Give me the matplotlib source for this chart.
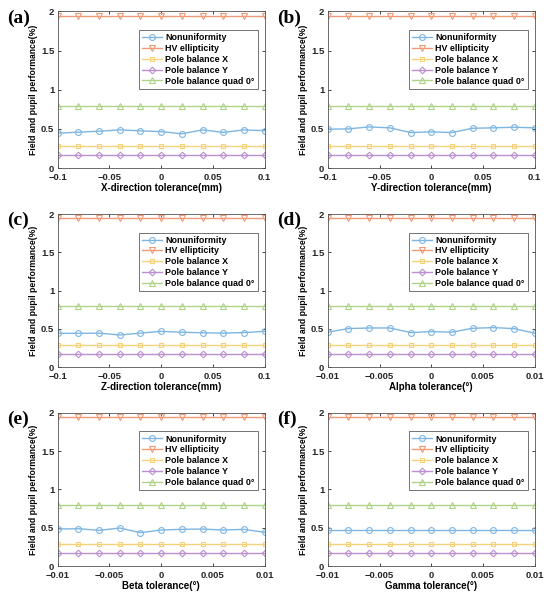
import matplotlib
matplotlib.use("Agg")
import matplotlib.pyplot as plt

plt.rcParams.update({
    "font.family": ["Liberation Sans", "DejaVu Sans"],
    "font.weight": "bold",
    "axes.labelweight": "bold",
})

# ---- data ---------------------------------------------------------------
X_MM = [-0.1, -0.08, -0.06, -0.04, -0.02, 0.0, 0.02, 0.04, 0.06, 0.08, 0.1]
X_DEG = [-0.01, -0.008, -0.006, -0.004, -0.002, 0.0, 0.002, 0.004, 0.006, 0.008, 0.01]

SERIES = ["Nonuniformity", "HV ellipticity", "Pole balance X",
          "Pole balance Y", "Pole balance quad 0°"]

HV = [1.945] * 11
POLE_X = [0.284] * 11
POLE_Y = [0.170] * 11
QUAD0 = [0.795] * 11

NONUNI_A = [0.445, 0.458, 0.470, 0.487, 0.475, 0.465, 0.437, 0.487, 0.455, 0.487, 0.477]
NONUNI_B = [0.496, 0.500, 0.525, 0.513, 0.453, 0.462, 0.453, 0.508, 0.513, 0.521, 0.513]
NONUNI_C = [0.442, 0.442, 0.445, 0.420, 0.445, 0.468, 0.457, 0.449, 0.445, 0.452, 0.468]
NONUNI_D = [0.458, 0.504, 0.512, 0.512, 0.452, 0.465, 0.457, 0.508, 0.517, 0.504, 0.445]
NONUNI_E = [0.483, 0.487, 0.466, 0.496, 0.436, 0.470, 0.479, 0.483, 0.470, 0.479, 0.440]
NONUNI_F = [0.470] * 11

PANELS = [
    ("(a)", X_MM, NONUNI_A, "X-direction tolerance(mm)", [-0.1, -0.05, 0, 0.05, 0.1]),
    ("(b)", X_MM, NONUNI_B, "Y-direction tolerance(mm)", [-0.1, -0.05, 0, 0.05, 0.1]),
    ("(c)", X_MM, NONUNI_C, "Z-direction tolerance(mm)", [-0.1, -0.05, 0, 0.05, 0.1]),
    ("(d)", X_DEG, NONUNI_D, "Alpha tolerance(°)", [-0.01, -0.005, 0, 0.005, 0.01]),
    ("(e)", X_DEG, NONUNI_E, "Beta tolerance(°)", [-0.01, -0.005, 0, 0.005, 0.01]),
    ("(f)", X_DEG, NONUNI_F, "Gamma tolerance(°)", [-0.01, -0.005, 0, 0.005, 0.01]),
]

# ---- style --------------------------------------------------------------
COLORS = ["#7db6e2", "#f09a78", "#f5d27a", "#bb8fd0", "#aed487"]
MARKERS = ["o", "v", "s", "D", "^"]
MSIZE = [4.2, 4.2, 3.2, 3.4, 4.2]

# axes rectangles in figure fractions (left col / right col, 3 rows)
ROWS = [(0.719, 0.262), (0.386, 0.256), (0.0535, 0.256)]
COLS = [0.105, 0.596]
W = 0.376


def fmt(v):
    if v == 0:
        return "0"
    return f"{v:g}".replace("-", "\u2212")


fig = plt.figure(figsize=(5.5, 5.98), dpi=100)

for i, (tag, xs, nonuni, xlabel, xticks) in enumerate(PANELS):
    bottom, h = ROWS[i // 2]
    left = COLS[i % 2]
    ax = fig.add_axes([left, bottom, W, h])
    ys = [nonuni, HV, POLE_X, POLE_Y, QUAD0]
    for name, y, c, m, ms in zip(SERIES, ys, COLORS, MARKERS, MSIZE):
        ax.plot(xs, y, color=c, lw=1.0, marker=m, ms=ms, mfc="none",
                mec=c, mew=0.8, label=name)
    ax.set_xlim(xs[0], xs[-1])
    ax.set_ylim(0, 2)
    ax.set_xticks(xticks)
    ax.set_xticklabels([fmt(v) for v in xticks])
    ax.set_yticks([0, 0.5, 1, 1.5, 2])
    ax.set_yticklabels(["0", "0.5", "1", "1.5", "2"])
    ax.tick_params(direction="in", length=2.5, width=0.6, labelsize=6.8,
                   top=True, right=True, colors="#262626", pad=2.5)
    ax.tick_params(axis="x", pad=3.5)
    for sp in ax.spines.values():
        sp.set_linewidth(0.6)
        sp.set_color("#555555")
    ax.set_xlabel(xlabel, fontsize=7.0, labelpad=1.0)
    ax.set_ylabel("Field and pupil performance(%)", fontsize=6.2, labelpad=2)
    leg = ax.legend(loc="upper right", bbox_to_anchor=(0.966, 0.879),
                    fontsize=6.4, handlelength=2.3, handletextpad=0.3,
                    labelspacing=0.2, borderpad=0.35, borderaxespad=0,
                    frameon=True, fancybox=False, edgecolor="#333333")
    leg.get_frame().set_linewidth(0.6)
    for t in leg.get_texts():
        t.set_fontweight("bold")
    # panel tag in serif bold, left of the axes
    fig.text(left - 0.092, bottom + h - 0.011, tag, fontsize=14,
             fontweight="bold", family=["Liberation Serif", "DejaVu Serif"],
             ha="left", va="center")

fig.savefig("out.png", dpi=100)
